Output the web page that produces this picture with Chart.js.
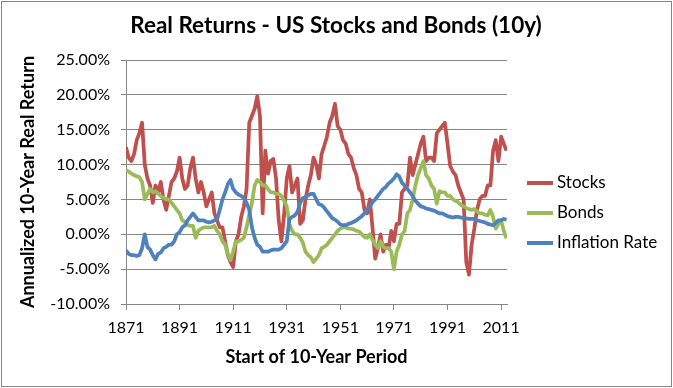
<!DOCTYPE html>
<html>
<head>
<meta charset="utf-8">
<script src="https://cdn.jsdelivr.net/npm/chart.js@4/dist/chart.umd.min.js"></script>
<style>
  html, body { margin: 0; padding: 0; background: #fff; }
  #wrap { width: 673px; height: 388px; }
</style>
</head>
<body>
<div id="wrap"><canvas id="realReturns" width="673" height="388"></canvas></div>
<script>
// start year of each 10-year window
const years = [
  1871, 1872, 1873, 1874, 1875, 1876, 1877, 1878, 1879, 1880,
  1881, 1882, 1883, 1884, 1885, 1886, 1887, 1888, 1889, 1890,
  1891, 1892, 1893, 1894, 1895, 1896, 1897, 1898, 1899, 1900,
  1901, 1902, 1903, 1904, 1905, 1906, 1907, 1908, 1909, 1910,
  1911, 1912, 1913, 1914, 1915, 1916, 1917, 1918, 1919, 1920,
  1921, 1922, 1923, 1924, 1925, 1926, 1927, 1928, 1929, 1930,
  1931, 1932, 1933, 1934, 1935, 1936, 1937, 1938, 1939, 1940,
  1941, 1942, 1943, 1944, 1945, 1946, 1947, 1948, 1949, 1950,
  1951, 1952, 1953, 1954, 1955, 1956, 1957, 1958, 1959, 1960,
  1961, 1962, 1963, 1964, 1965, 1966, 1967, 1968, 1969, 1970,
  1971, 1972, 1973, 1974, 1975, 1976, 1977, 1978, 1979, 1980,
  1981, 1982, 1983, 1984, 1985, 1986, 1987, 1988, 1989, 1990,
  1991, 1992, 1993, 1994, 1995, 1996, 1997, 1998, 1999, 2000,
  2001, 2002, 2003, 2004, 2005, 2006, 2007, 2008, 2009, 2010,
  2011, 2012, 2013
];

// annualized real returns, percent
const stocks = [
  12.5, 11, 10.5, 11.5, 13.5, 14.5, 16, 10, 8, 7,
  4.5, 7, 6, 7.5, 5, 3.5, 5.5, 7.5, 8, 9,
  11, 8, 6.5, 7, 9.5, 11, 8, 6, 7.5, 6,
  4, 5, 6, 3, 2, 1, 1, -1, -3, -4,
  -4.7, -1, 0, 2.5, 4, 6.5, 16, 17, 18, 19.8,
  17, 3, 12, 8.7, 10.5, 10.8, 8, 2, -1, 2.8,
  8, 9.8, 6, 7, 8, 1.5, 2, 5, 7, 8.5,
  11, 10, 8, 11.5, 12.7, 14, 16, 17, 18.7, 15.5,
  15, 13.5, 13, 11.5, 11, 9.5, 8.5, 6.5, 6, 3.5,
  3, 5, 1, -3.5, -2, 0, -2.5, -1.5, -2, 0.5,
  -1, 1.5, 1.5, 6, 6.5, 7, 11, 8.5, 10, 11.5,
  13, 14, 10.5, 11, 11, 10.5, 14.5, 15, 15.5, 16,
  13, 9.8, 9, 8.5, 7, 6, 5, -4, -5.8, -1.5,
  0.8, 3.5, 5, 5.5, 5.5, 7, 7, 12, 13.5, 10.5,
  14, 13, 12
];

const bonds = [
  9.2, 9, 8.7, 8.5, 8.3, 8.2, 7.5, 5, 5.8, 6.5,
  6, 6.2, 5.8, 5.5, 5.2, 5, 5, 4.5, 4, 3.5,
  3, 2, 1.8, 1.3, 1.2, 1.2, -0.5, 0.5, 0.8, 1,
  1, 1, 1, 1.2, 0.5, 0, -1, -1.5, -2.8, -3.7,
  -2.5, -1, -1, -0.8, -0.5, 1, 2.8, 4.5, 7, 7.8,
  7.5, 7, 7, 6.5, 6, 6, 5.8, 5.8, 5.5, 4.8,
  4, 1.5, 0.5, 0, 0, -0.5, -1.2, -2.5, -3, -3.3,
  -4, -3.5, -3, -2, -1.8, -1.5, -1, -0.5, 0, 0.5,
  0.8, 1, 1, 0.8, 0.8, 0.7, 0.5, 0.4, 0, -0.4,
  -0.5, 0, -0.8, -1.5, -2, -1, -1.8, -2, -2, -2.5,
  -5, -2.5, -1.5, 0, 0.5, 3, 3.5, 5, 7, 8.5,
  9.5, 10.5, 8.5, 8, 7, 6.5, 4.4, 6.2, 6, 6,
  5.5, 5.5, 5, 4.8, 4.6, 4.2, 4, 3.8, 3.6, 3.5,
  3.6, 3.3, 3, 3, 2.8, 2.7, 3.5, 2.5, 0.8, 1.5,
  2, 0.5, -0.6
];

const inflation = [
  -2.3, -2.8, -3, -3, -3.1, -3, -2, 0, -1.8, -2.2,
  -3, -3.6, -2.8, -2.6, -2, -1.8, -1.5, -1.5, -1, 0,
  0.3, 1, 1.3, 2, 2.5, 3, 2.5, 2, 2, 2,
  1.8, 1.7, 1.8, 2, 2.2, 3.5, 5, 6, 7.2, 7.8,
  6.5, 6, 5.7, 5.5, 5.2, 4.5, 3.5, 1, -0.5, -1.5,
  -1.8, -2.5, -2.5, -2.5, -2.3, -2.2, -2.2, -2.2, -2, -1.5,
  -1, 2.2, 2.5, 2.7, 3.2, 4.5, 5.2, 5.3, 5.6, 5.8,
  5.8, 5, 4.3, 4.2, 3.8, 3.3, 2.8, 2.3, 2.1, 1.8,
  1.4, 1.3, 1.3, 1.5, 1.6, 1.8, 2, 2.3, 2.6, 3,
  3.5, 4, 4.6, 5, 5.5, 6, 6.5, 6.8, 7.3, 7.6,
  8, 8.6, 8.3, 7.4, 7, 6.5, 6, 5.5, 4.8, 4.4,
  4, 3.9, 3.7, 3.6, 3.5, 3.4, 3.2, 3, 3, 2.8,
  2.6, 2.5, 2.4, 2.5, 2.5, 2.4, 2.3, 2.3, 2.2, 2.2,
  2.2, 2, 1.9, 1.8, 1.7, 1.5, 1.4, 1.3, 1.6, 2,
  2, 2.2, 2.1
];

const xTickLabels = [1871, 1891, 1911, 1931, 1951, 1971, 1991, 2011];
const yTickValues = [-10, -5, 0, 5, 10, 15, 20, 25];

const seriesNames = ['Stocks', 'Bonds', 'Inflation Rate'];
const seriesColors = ['#C0504D', '#9BBB59', '#4F81BD'];
const chartTitle = 'Real Returns - US Stocks and Bonds (10y)';

const FONT = 'Lato';
const GRID = '#868686';

const toPoints = (vals) => vals.map((v, i) => ({ x: years[i], y: v }));

// outer frame, title and legend drawn by hand, Excel style
const frameAndLegend = {
    id: 'frameAndLegend',
    afterDraw(chart) {
        const ctx = chart.ctx;
        ctx.save();
        ctx.strokeStyle = GRID;
        ctx.lineWidth = 1;
        ctx.strokeRect(1.5, 1.5, chart.width - 3, chart.height - 3);

        // title is centred on the whole frame, not the plot
        ctx.fillStyle = '#000';
        ctx.font = 'bold 22.5px ' + FONT;
        ctx.textAlign = 'center';
        ctx.textBaseline = 'alphabetic';
        ctx.fillText(chartTitle, 336, 33);

        ctx.font = '17px ' + FONT;
        ctx.textBaseline = 'middle';
        ctx.textAlign = 'left';
        chart.data.datasets.forEach((ds, i) => {
            const y = 183 + i * 30;
            ctx.strokeStyle = ds.borderColor;
            ctx.lineWidth = 4;
            ctx.beginPath();
            ctx.moveTo(527, y);
            ctx.lineTo(553, y);
            ctx.stroke();
            ctx.fillStyle = '#000';
            ctx.fillText(ds.label, 557, y);
        });
        ctx.restore();
    }
};

function draw() {
    const ctx = document.getElementById('realReturns').getContext('2d');
    const series = [stocks, bonds, inflation];

    new Chart(ctx, {
        type: 'line',
        data: {
            datasets: series.map((vals, i) => ({
                label: seriesNames[i],
                data: toPoints(vals),
                borderColor: seriesColors[i],
                backgroundColor: seriesColors[i],
                borderWidth: 3.75,
                pointRadius: 0,
                tension: 0,
                borderJoinStyle: 'round',
                order: 3 - i
            }))
        },
        options: {
            responsive: false,
            animation: false,
            layout: { padding: { left: 4, right: 166, top: 60, bottom: 0 } },
            plugins: {
                legend: { display: false },
                tooltip: { enabled: false },
                title: { display: false }
            },
            scales: {
                x: {
                    type: 'linear',
                    min: 1871,
                    max: 2013.2,
                    afterBuildTicks: (scale) => {
                        scale.ticks = xTickLabels.map(v => ({ value: v }));
                    },
                    afterFit: (scale) => { scale.height = 84; },
                    ticks: {
                        color: '#000',
                        font: { family: FONT, size: 16 },
                        padding: 8,
                        maxRotation: 0,
                        callback: (v) => String(v)
                    },
                    grid: {
                        drawOnChartArea: false,
                        drawTicks: true,
                        tickLength: 6,
                        color: GRID
                    },
                    border: { color: GRID },
                    title: {
                        display: true,
                        text: 'Start of 10-Year Period',
                        color: '#000',
                        font: { family: FONT, size: 18, weight: 'bold' },
                        padding: { top: 0, bottom: 20 }
                    }
                },
                y: {
                    min: -10,
                    max: 25,
                    afterBuildTicks: (scale) => {
                        scale.ticks = yTickValues.map(v => ({ value: v }));
                    },
                    afterFit: (scale) => { scale.width = 122; },
                    ticks: {
                        color: '#000',
                        font: { family: FONT, size: 16 },
                        padding: 11,
                        callback: (v) => v.toFixed(2) + '%'
                    },
                    grid: {
                        color: GRID,
                        tickLength: 5
                    },
                    border: { color: GRID },
                    title: {
                        display: true,
                        text: 'Annualized 10-Year Real Return',
                        color: '#000',
                        font: { family: FONT, size: 18, weight: 'bold' },
                        padding: { top: 13, bottom: 0 }
                    }
                }
            }
        },
        plugins: [frameAndLegend]
    });
}

document.fonts.load('16px ' + FONT).then(draw, draw);
</script>
</body>
</html>
